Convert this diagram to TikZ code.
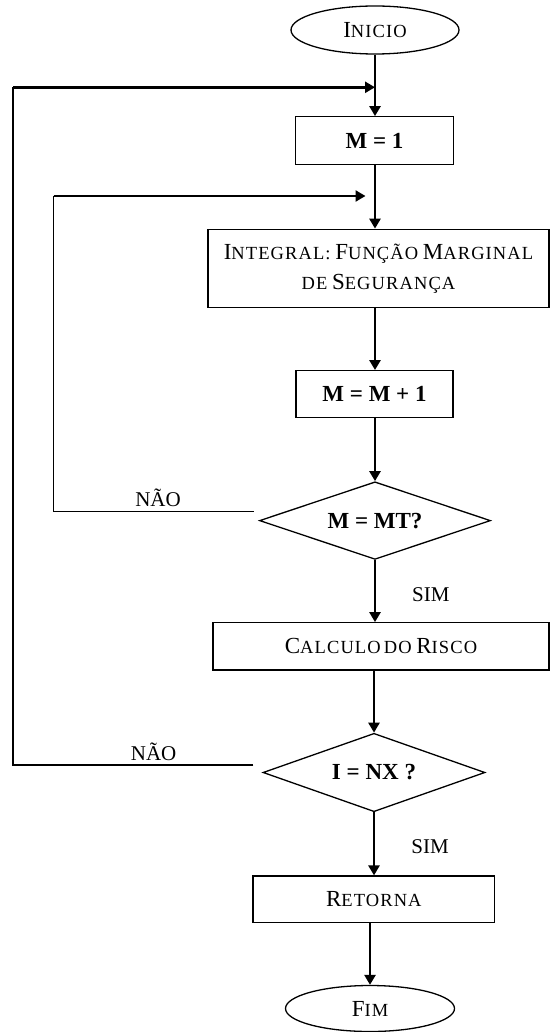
\documentclass[tikz,border=0pt]{standalone}
\usepackage{fontspec}
\setmainfont{Liberation Serif}
\newfontfamily\scfont[LetterSpace=6]{Liberation Serif}
\usetikzlibrary{shapes.geometric,arrows.meta,calc}
% hand-made small capitals: a large initial followed by reduced capitals
\newcommand\capsz{\fontsize{23}{30}\selectfont}
\newcommand\smsz{\scfont\fontsize{18.5}{30}\selectfont}
\newcommand\smcap[2]{{\capsz #1}{\smsz #2}}
\begin{document}
\begin{tikzpicture}[x=1pt,y=-1pt,
  flow/.style={draw, line width=1.3pt, inner sep=0pt, align=center,
    font=\fontsize{18.5}{30}\selectfont},
  box/.style={flow, rectangle},
  term/.style={flow, ellipse},
  boldtxt/.style={font=\bfseries\fontsize{23}{26}\selectfont},
  test/.style={flow, diamond, aspect=2.9, boldtxt},
  arr/.style={line width=2.8pt, -{Triangle[length=10pt,width=11pt]}},
  thinln/.style={line width=1.3pt},
  lbl/.style={font=\fontsize{21}{24}\selectfont, inner sep=0pt, anchor=base}]
\fill[white] (0,0) rectangle (550,1032);
\useasboundingbox (0,0) rectangle (550,1032);

% process nodes
\node[term, minimum width=168, minimum height=48] (inicio) at (375,30) {\smcap{I}{NICIO}};
\node[box, minimum width=158, minimum height=47.5, boldtxt] (m1) at (374.5,140.5) {M = 1};
\node[box, minimum width=341, minimum height=78] (integ) at (378.5,268.3)
  {\smcap{I}{NTEGRAL:} \smcap{F}{UNÇÃO} \smcap{M}{ARGINAL}\\{\smsz DE} \smcap{S}{EGURANÇA}};
\node[box, minimum width=157, minimum height=46.6, boldtxt] (mm1) at (374.5,394) {M = M + 1};
\node[test, minimum width=231, minimum height=77.6] (mmt) at (375,520.6) {M = MT?};
\node[box, minimum width=336, minimum height=47.3] (calc) at (381,646.4)
  {\smcap{C}{ALCULO}\,{\smsz DO} \smcap{R}{ISCO}};
\node[test, minimum width=222, minimum height=78.4] (inx) at (374,772.5) {I = NX ?};
\node[box, minimum width=241.6, minimum height=46.3] (ret) at (373.8,899.2) {\smcap{R}{ETORNA}};
\node[term, minimum width=169, minimum height=46] (fim) at (370,1008.5) {\smcap{F}{IM}};

% branch labels
\node[lbl] (nao1) at (158,506.5) {NÃO};
\node[lbl] (sim1) at (430.8,601.7) {SIM};
\node[lbl] (nao2) at (153.6,760) {NÃO};
\node[lbl] (sim2) at (430,853.5) {SIM};

% main flow
\draw[arr] (inicio.south) -- (inicio.south |- m1.north);
\draw[arr] (inicio.south |- m1.south) -- (inicio.south |- integ.north);
\draw[arr] (inicio.south |- integ.south) -- (inicio.south |- mm1.north);
\draw[arr] (inicio.south |- mm1.south) -- (inicio.south |- mmt.north);
\draw[arr] (mmt.south) -- (mmt.south |- calc.north);
\draw[arr] (inx.north |- calc.south) -- (inx.north);
\draw[arr] (inx.south) -- (inx.south |- ret.north);
\draw[arr] (fim.north |- ret.south) -- (fim.north);

% loop returns
\coordinate (j1) at (inicio.south |- 0,87.3);
\coordinate (c1) at (13,87.3);
\coordinate (n2) at ($(inx.west)+(-9,-7.5)$);
\draw[thinln] (n2) -- (n2 -| c1) -- (c1);
\draw[arr] (c1) -- (j1);

\coordinate (j2) at ($(inicio.south |- 0,196)+(-9.5,0)$);
\coordinate (c2) at (53.7,196);
\coordinate (n1) at ($(mmt.west)+(-5,-9)$);
\draw[thinln] (n1) -- (n1 -| c2) -- (c2);
\draw[arr] (c2) -- (j2);
\end{tikzpicture}
\end{document}
